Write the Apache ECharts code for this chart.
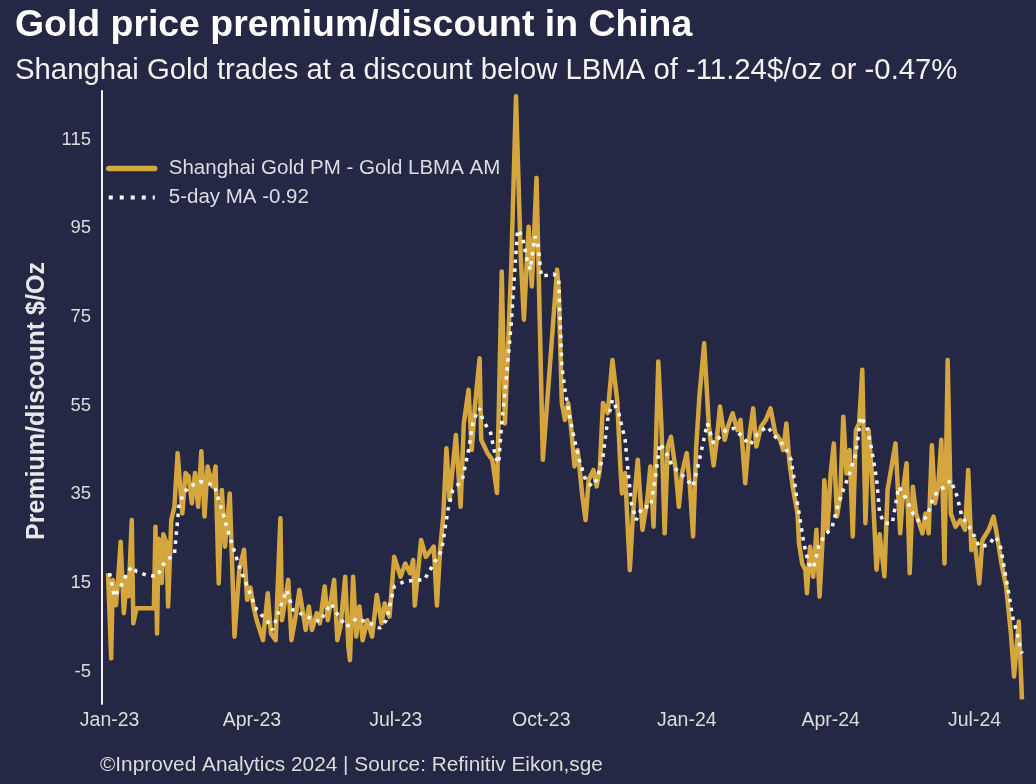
<!DOCTYPE html>
<html><head><meta charset="utf-8">
<script src="https://cdn.jsdelivr.net/npm/echarts@6/dist/echarts.min.js"></script>
<style>html,body{margin:0;padding:0;background:#242845;}#c{width:1036px;height:784px;}</style>
</head><body><div id="c"></div>
<script>
const dates = ['2022-12-31','2023-01-02','2023-01-03','2023-01-05','2023-01-06','2023-01-08','2023-01-10','2023-01-12','2023-01-13','2023-01-15','2023-01-16','2023-01-18','2023-01-29','2023-01-30','2023-01-31','2023-02-01','2023-02-03','2023-02-04','2023-02-06','2023-02-07','2023-02-09','2023-02-11','2023-02-13','2023-02-16','2023-02-18','2023-02-20','2023-02-22','2023-02-24','2023-02-26','2023-02-28','2023-03-02','2023-03-04','2023-03-07','2023-03-09','2023-03-11','2023-03-13','2023-03-15','2023-03-18','2023-03-21','2023-03-24','2023-03-27','2023-03-29','2023-03-31','2023-04-02','2023-04-04','2023-04-08','2023-04-11','2023-04-13','2023-04-16','2023-04-19','2023-04-20','2023-04-24','2023-04-26','2023-04-29','2023-05-01','2023-05-05','2023-05-07','2023-05-09','2023-05-12','2023-05-14','2023-05-17','2023-05-19','2023-05-23','2023-05-25','2023-05-27','2023-05-30','2023-06-01','2023-06-02','2023-06-04','2023-06-06','2023-06-08','2023-06-10','2023-06-13','2023-06-16','2023-06-19','2023-06-22','2023-06-24','2023-06-27','2023-06-30','2023-07-04','2023-07-07','2023-07-10','2023-07-12','2023-07-13','2023-07-17','2023-07-20','2023-07-25','2023-07-27','2023-07-29','2023-07-31','2023-08-02','2023-08-04','2023-08-08','2023-08-11','2023-08-13','2023-08-16','2023-08-18','2023-08-20','2023-08-23','2023-08-24','2023-08-28','2023-08-31','2023-09-03','2023-09-06','2023-09-08','2023-09-12','2023-09-15','2023-09-18','2023-09-20','2023-09-23','2023-09-25','2023-09-28','2023-10-02','2023-10-11','2023-10-12','2023-10-14','2023-10-16','2023-10-18','2023-10-20','2023-10-22','2023-10-24','2023-10-27','2023-10-29','2023-10-31','2023-11-03','2023-11-05','2023-11-07','2023-11-09','2023-11-12','2023-11-15','2023-11-18','2023-11-20','2023-11-21','2023-11-23','2023-11-26','2023-11-28','2023-12-01','2023-12-04','2023-12-07','2023-12-09','2023-12-11','2023-12-14','2023-12-16','2023-12-18','2023-12-20','2023-12-22','2023-12-25','2023-12-27','2023-12-29','2024-01-01','2024-01-03','2024-01-05','2024-01-07','2024-01-09','2024-01-12','2024-01-15','2024-01-18','2024-01-20','2024-01-22','2024-01-25','2024-01-27','2024-01-30','2024-02-02','2024-02-04','2024-02-07','2024-02-09','2024-02-12','2024-02-14','2024-02-17','2024-02-20','2024-02-23','2024-02-26','2024-02-29','2024-03-02','2024-03-04','2024-03-06','2024-03-08','2024-03-11','2024-03-12','2024-03-14','2024-03-16','2024-03-17','2024-03-19','2024-03-21','2024-03-23','2024-03-25','2024-03-27','2024-03-28','2024-03-30','2024-04-01','2024-04-03','2024-04-05','2024-04-07','2024-04-09','2024-04-11','2024-04-13','2024-04-15','2024-04-17','2024-04-19','2024-04-21','2024-04-23','2024-04-25','2024-04-27','2024-04-30','2024-05-02','2024-05-05','2024-05-07','2024-05-12','2024-05-15','2024-05-17','2024-05-19','2024-05-21','2024-05-23','2024-05-25','2024-05-29','2024-05-31','2024-06-02','2024-06-04','2024-06-06','2024-06-08','2024-06-10','2024-06-12','2024-06-14','2024-06-16','2024-06-19','2024-06-22','2024-06-25','2024-06-27','2024-06-29','2024-07-01','2024-07-04','2024-07-06','2024-07-10','2024-07-13','2024-07-15','2024-07-18','2024-07-21','2024-07-24','2024-07-26','2024-07-29','2024-07-31'];
const premium = [17.2,-2,15.7,10,14,24.3,8.2,16.4,12,29.2,5.9,9.3,9.3,27.7,3.6,25,15,26,24,9.7,29.2,32.2,44.3,30.7,39.8,39,33,39.8,32.2,44.7,30,41.3,36.8,41.3,14.9,36,23.2,35.2,2.9,17.9,22.5,11.2,14,9.7,6.6,2.1,12.7,3.6,2.1,29.6,6.6,15.7,2.1,8.2,13.4,4.4,9.7,4.4,8.2,5.9,14.2,6.6,15.7,2.1,5.1,16.4,0.6,-2.4,16.4,2.9,9.7,2.1,6.6,2.9,12.3,5.9,10.4,7.4,20.9,16.4,19.4,17.2,20.2,9.9,24.7,20.9,23.2,9.9,22.4,30,45.4,33.8,48.4,32.2,51,58.6,45,54.8,65.7,47.3,44.3,42.8,35.3,85.3,51,86.4,124.8,88.7,74.4,95.4,81.9,106.4,42.8,85.7,81.1,55.6,51.8,55.6,49.5,41.3,45,34.5,29.2,38.3,40.5,36.8,40.5,55.6,53.3,65.3,56.3,41.3,35.2,39.8,17.9,30.7,42.8,27,33.7,41.3,27.7,65,50.3,26.2,45.8,48,40.5,32.2,39.8,44.3,36.8,25.5,45.8,57.1,69.1,50.3,41.5,47.3,54.8,47.3,50.3,53.3,49.5,51.8,37.5,46.5,54.4,45.8,50.3,51.8,54.4,48.8,47.3,45,51,42,36.7,30.7,24,19.4,17.9,12.7,23.2,16.4,27,11.9,25.5,38.2,27,39.7,46.5,30,34.5,52.5,39.7,45,25.5,49.5,51,63.1,28.5,49.5,40,18,26,16.5,36,46.5,26.2,36.7,42,17.2,36.7,30.7,26.2,30.7,26.2,46.1,33,36.7,47.3,19.4,65.3,30.7,27.7,29.2,27,40.5,22.4,24.7,14.9,24.7,27,30,26.2,19.4,14.2,3.6,-6.1,6.3,-11.24];
const maDates = ['2023-01-01','2023-01-04','2023-01-08','2023-01-12','2023-01-15','2023-01-18','2023-01-24','2023-01-31','2023-02-05','2023-02-11','2023-02-14','2023-02-19','2023-02-27','2023-03-08','2023-03-13','2023-03-18','2023-03-24','2023-03-30','2023-04-04','2023-04-11','2023-04-14','2023-04-19','2023-04-23','2023-04-27','2023-05-06','2023-05-14','2023-05-21','2023-05-26','2023-05-31','2023-06-06','2023-06-15','2023-06-21','2023-06-25','2023-06-30','2023-07-06','2023-07-14','2023-07-19','2023-07-25','2023-07-30','2023-08-03','2023-08-06','2023-08-12','2023-08-16','2023-08-19','2023-08-23','2023-08-25','2023-08-30','2023-09-02','2023-09-04','2023-09-06','2023-09-09','2023-09-12','2023-09-14','2023-09-16','2023-09-19','2023-09-22','2023-09-24','2023-09-27','2023-09-29','2023-10-01','2023-10-09','2023-10-12','2023-10-13','2023-10-14','2023-10-16','2023-10-19','2023-10-22','2023-10-25','2023-10-29','2023-11-02','2023-11-05','2023-11-09','2023-11-12','2023-11-15','2023-11-19','2023-11-23','2023-11-25','2023-11-27','2023-11-30','2023-12-04','2023-12-09','2023-12-12','2023-12-15','2023-12-19','2023-12-23','2023-12-28','2024-01-01','2024-01-05','2024-01-09','2024-01-14','2024-01-18','2024-01-22','2024-01-26','2024-01-31','2024-02-05','2024-02-10','2024-02-15','2024-02-21','2024-02-26','2024-03-03','2024-03-07','2024-03-09','2024-03-11','2024-03-13','2024-03-15','2024-03-18','2024-03-21','2024-03-25','2024-03-28','2024-04-02','2024-04-06','2024-04-09','2024-04-13','2024-04-17','2024-04-20','2024-04-24','2024-04-27','2024-04-30','2024-05-02','2024-05-05','2024-05-10','2024-05-14','2024-05-17','2024-05-20','2024-05-23','2024-05-27','2024-06-01','2024-06-05','2024-06-09','2024-06-12','2024-06-16','2024-06-20','2024-06-23','2024-06-27','2024-07-01','2024-07-04','2024-07-10','2024-07-14','2024-07-17','2024-07-20','2024-07-23','2024-07-25','2024-07-28','2024-07-29','2024-07-31'];
const maValues = [17.2,11.9,14.2,17.2,18.7,17.6,16.8,16.5,19.8,21.5,33,36.4,37.9,37.1,31.5,25.4,18.7,13.4,8.9,6.3,4.4,9.6,13.4,8.9,7.4,6.3,10.4,7.4,5.1,7,5.9,4.8,6.6,14.2,15.3,15.7,15.7,19.4,22.4,31.5,36,38.2,45,51.8,54.4,51.8,48.8,43.5,42,51,61.6,73.6,84.2,94.7,93.2,87.9,85.7,93.2,91,84.2,84.7,83.4,73.6,63.8,58.6,52.5,47.3,42.8,38.3,36.8,38.3,43.5,51.8,56.3,53.3,47.3,39.8,33,29.2,32.2,32.2,38.3,46.5,44.3,41.3,39.8,38.3,36.8,42.8,51,46.5,48,49.5,49.9,48,46.1,48.8,50.3,48,45.8,42.8,38.2,33,28.5,24,19.4,18.3,24,25.5,27.7,33,36,39.8,44.3,52.5,50.3,45,38.6,30.7,28.5,28.5,36.7,35.2,33,30.7,28.8,30,34.5,36,36.7,38.2,34.5,30,28.1,25.5,23.2,23.6,25.5,24,17.9,11.9,7.4,3.6,1.7,-0.92];
const xTickDates = ['2023-01-01','2023-04-01','2023-07-01','2023-10-01','2024-01-01','2024-04-01','2024-07-01'];
const xTickLabels = ['Jan-23','Apr-23','Jul-23','Oct-23','Jan-24','Apr-24','Jul-24'];
const yTicks = [-5,15,35,55,75,95,115];

const ts = s => new Date(s.length > 10 ? s : s + 'T00:00:00').getTime();
const xTickTs = xTickDates.map(ts);
const goldData = dates.map((d, i) => [ts(d), premium[i]]);
const maData = maDates.map((d, i) => [ts(d), maValues[i]]);
const FONT = "'Liberation Sans', Arial, sans-serif";
const GOLD = '#D6A63E';

const chart = echarts.init(document.getElementById('c'), null, {renderer: 'canvas'});
chart.setOption({
  backgroundColor: '#242845',
  animation: false,
  title: [
    {text: 'Gold price premium/discount in China', left: 10, top: 2, padding: 5,
     textStyle: {color: '#ffffff', fontSize: 37.4, fontWeight: 'bold', fontFamily: FONT}},
    {text: 'Shanghai Gold trades at a discount below LBMA of -11.24$/oz or -0.47%', left: 10, top: 51, padding: 5,
     textStyle: {color: '#f2f2f2', fontSize: 29.3, fontWeight: 'normal', fontFamily: FONT}},
    {text: '©Inproved Analytics 2024 | Source: Refinitiv Eikon,sge', left: 95, top: 750, padding: 5,
     textStyle: {color: '#dcdcdc', fontSize: 20.8, fontWeight: 'normal', fontFamily: FONT}}
  ],
  graphic: [{
    type: 'text', x: 37, y: 401, rotation: Math.PI / 2,
    style: {text: 'Premium/discount $/Oz', fill: '#e8e8e8', font: 'bold 25px ' + FONT, align: 'center', verticalAlign: 'middle'}
  }],
  legend: {
    left: 101, top: 153, orient: 'vertical', itemWidth: 46, itemHeight: 14, itemGap: 8,
    itemStyle: {opacity: 0},
    textStyle: {color: '#dcdce2', fontSize: 20.5, fontFamily: FONT, padding: [0, 0, 0, 9]},
    data: [
      {name: 'Shanghai Gold PM - Gold LBMA AM', lineStyle: {color: GOLD, width: 5.5, cap: 'round'}},
      {name: '5-day MA -0.92', lineStyle: {color: '#ffffff', width: 4, type: [4, 7]}}
    ]
  },
  grid: {left: 102, right: 6, top: 91, bottom: 80, containLabel: false},
  xAxis: {
    type: 'value',
    min: ts('2022-12-27T04:34:00'),
    max: ts('2024-08-05T01:40:00'),
    axisLine: {show: false},
    axisTick: {show: false},
    splitLine: {show: false},
    axisLabel: {
      customValues: xTickTs,
      color: '#dcdcdc', fontSize: 19.5, fontFamily: FONT, margin: 7,
      formatter: v => { const i = xTickTs.indexOf(v); return i >= 0 ? xTickLabels[i] : ''; }
    }
  },
  yAxis: {
    type: 'value', min: -12.3, max: 126,
    axisLine: {show: true, lineStyle: {color: '#f0f0f0', width: 2}},
    axisTick: {show: false},
    splitLine: {show: false},
    axisLabel: {customValues: yTicks, color: '#dcdcdc', fontSize: 18.5, fontFamily: FONT, margin: 11}
  },
  series: [
    {name: 'Shanghai Gold PM - Gold LBMA AM', type: 'line', data: goldData, symbol: 'none', showSymbol: false,
     color: GOLD, lineStyle: {color: GOLD, width: 4.5, join: 'round'}, z: 2},
    {name: '5-day MA -0.92', type: 'line', data: maData, symbol: 'none', showSymbol: false,
     color: '#ffffff', lineStyle: {color: '#ffffff', width: 3.5, type: [3.5, 5.5]}, z: 3}
  ]
});
</script></body></html>
